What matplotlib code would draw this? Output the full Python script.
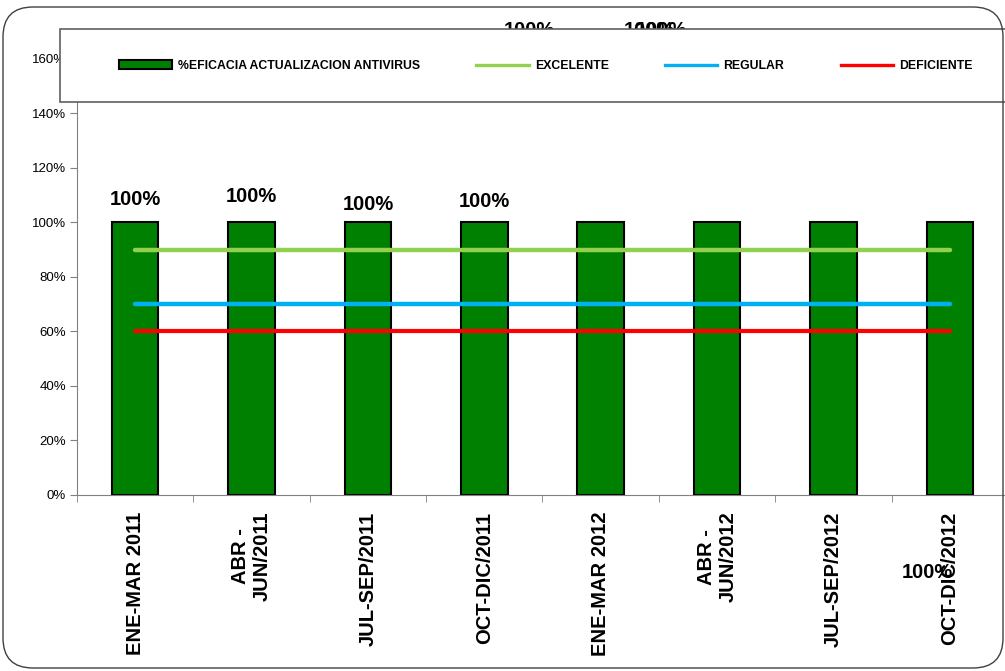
# 1.导包
import matplotlib
matplotlib.use('Agg')
import matplotlib.pyplot as plt
from matplotlib.patches import Patch, Rectangle, FancyBboxPatch
from matplotlib.lines import Line2D

plt.rcParams['font.family'] = ['Liberation Sans', 'DejaVu Sans']

# 2.数据
periodos = ['ENE-MAR 2011', 'ABR -\nJUN/2011', 'JUL-SEP/2011', 'OCT-DIC/2011',
            'ENE-MAR 2012', 'ABR -\nJUN/2012', 'JUL-SEP/2012', 'OCT-DIC/2012']
eficacia = [1.0, 1.0, 1.0, 1.0, 1.0, 1.0, 1.0, 1.0]
excelente = [0.9, 0.9, 0.9, 0.9, 0.9, 0.9, 0.9, 0.9]
regular = [0.7, 0.7, 0.7, 0.7, 0.7, 0.7, 0.7, 0.7]
deficiente = [0.6, 0.6, 0.6, 0.6, 0.6, 0.6, 0.6, 0.6]
y_ticks = [0.0, 0.2, 0.4, 0.6, 0.8, 1.0, 1.2, 1.4, 1.6]

serie_nombre = '%EFICACIA ACTUALIZACION ANTIVIRUS'
nombres_lineas = ['EXCELENTE', 'REGULAR', 'DEFICIENTE']

# 3.标签位置（Excel 里被拖乱的数据标签）
pos_etiquetas = [(0, 1.086), (1, 1.095), (2, 1.067), (3, 1.076),
                 (3.39, 1.706), (4.42, 1.706), (4.52, 1.706), (6.81, -0.284)]


def dibujar():
    fig = plt.figure(figsize=(10.05, 6.71), dpi=100)
    ax = fig.add_axes([0.0766, 0.2623, 0.9264, 0.6498])

    x = list(range(len(periodos)))

    # 柱子
    ax.bar(x, eficacia, width=0.4, color='#008000', edgecolor='black',
           linewidth=1.5, zorder=2)

    # 三条参考线
    ax.plot(x, excelente, color='#92D050', lw=3.2, solid_capstyle='round', zorder=3)
    ax.plot(x, regular, color='#00B0F0', lw=3.2, solid_capstyle='round', zorder=3)
    ax.plot(x, deficiente, color='#FF0000', lw=3.0, solid_capstyle='round', zorder=3)

    # 数据标签
    for v, (px, py) in zip(eficacia, pos_etiquetas):
        ax.text(px, py, f'{v * 100:.0f}%', ha='center', va='center',
                fontsize=14.5, fontweight='bold', clip_on=False, zorder=4)

    # 坐标轴
    ax.set_xlim(-0.5, len(periodos) - 0.5)
    ax.set_ylim(0, 1.6)
    ax.set_yticks(y_ticks)
    ax.set_yticklabels([f'{t * 100:.0f}%' for t in y_ticks], fontsize=9.5)
    ax.tick_params(axis='y', length=5, color='#808080', pad=3)

    ax.set_xticks(x)
    ax.set_xticklabels(periodos, rotation=90, fontsize=14.5, fontweight='bold',
                       va='top', ha='center', multialignment='center')
    ax.set_xticks([i - 0.5 for i in range(len(periodos) + 1)], minor=True)
    ax.tick_params(axis='x', which='major', length=0, pad=12)
    ax.tick_params(axis='x', which='minor', length=5, color='#808080')

    for s in ['top', 'right']:
        ax.spines[s].set_visible(False)
    ax.spines['left'].set_color('#808080')
    ax.spines['bottom'].set_color('#808080')

    # 图例框（盖住坐标轴上部）
    caja = Rectangle((0.0597, 0.848), 0.96, 0.1088, transform=fig.transFigure,
                     facecolor='white', edgecolor='#606060', linewidth=1.2,
                     zorder=5)
    fig.add_artist(caja)

    handles = [Patch(facecolor='#008000', edgecolor='black', linewidth=1.5),
               Line2D([], [], color='#92D050', lw=2.4),
               Line2D([], [], color='#00B0F0', lw=2.4),
               Line2D([], [], color='#FF0000', lw=2.4)]
    leg = fig.legend(handles, [serie_nombre] + nombres_lineas, loc='center left',
                     bbox_to_anchor=(0.1184, 0.9016), ncol=4, frameon=False,
                     prop={'size': 8.8, 'weight': 'bold'}, handlelength=4.3,
                     handletextpad=0.5, columnspacing=4.6, borderpad=0,
                     borderaxespad=0)
    leg.set_zorder(6)

    # 外面的圆角边框
    borde = FancyBboxPatch((0.03, 0.03), 10.0, 6.61,
                           boxstyle='round,pad=0,rounding_size=0.3',
                           transform=fig.dpi_scale_trans, facecolor='none',
                           edgecolor='#404040', linewidth=1.0, zorder=7)
    fig.add_artist(borde)

    fig.savefig('out.png', dpi=100)


if __name__ == '__main__':
    dibujar()
